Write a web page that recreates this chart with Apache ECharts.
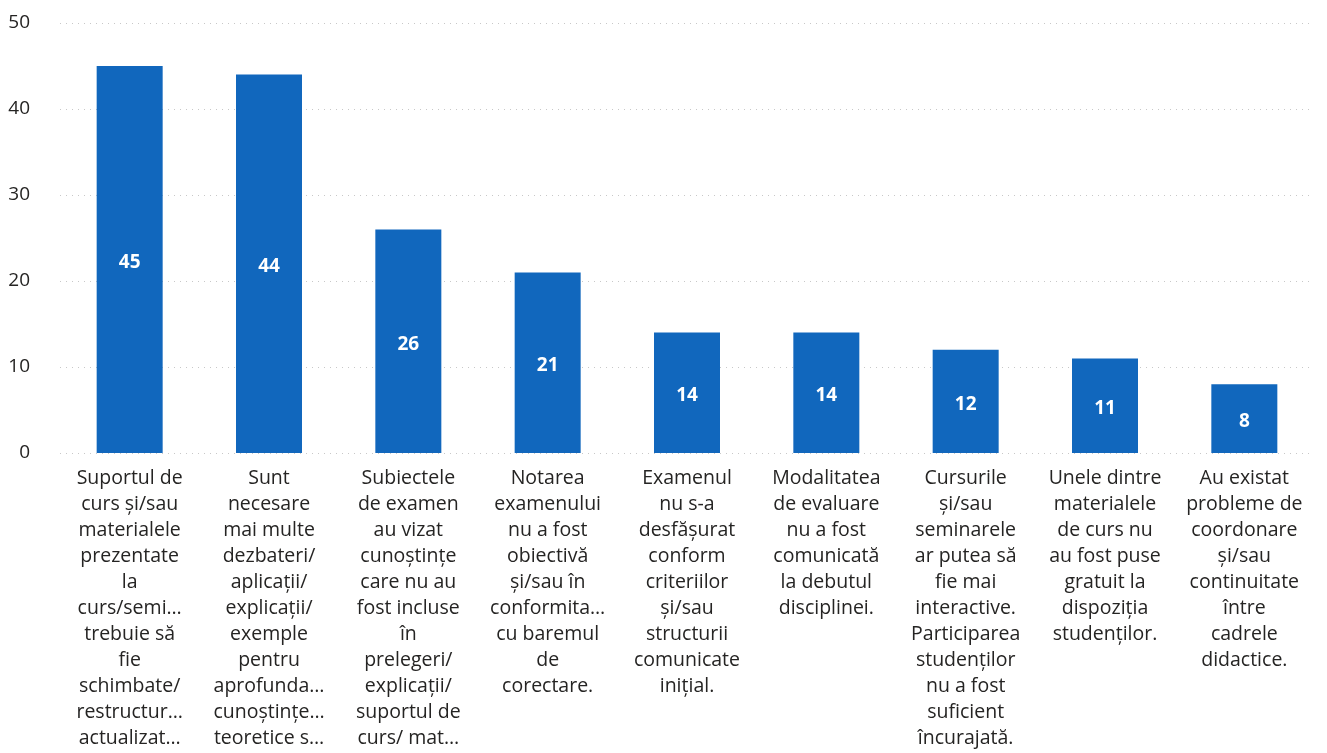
<!DOCTYPE html>
<html>
<head>
<meta charset="utf-8">
<script src="https://cdn.jsdelivr.net/npm/echarts@6/dist/echarts.min.js"></script>
<style>
  html, body { margin: 0; padding: 0; background: #ffffff; }
  #chart { width: 1327px; height: 753px; }
</style>
</head>
<body>
<div id="chart"></div>
<script>
// category labels as shown (wrapped and truncated in the original)
var categories = [
  'Suportul de\ncurs și/sau\nmaterialele\nprezentate\nla\ncurs/semi…\ntrebuie să\nfie\nschimbate/\nrestructur…\nactualizat…',
  'Sunt\nnecesare\nmai multe\ndezbateri/\naplicații/\nexplicații/\nexemple\npentru\naprofunda…\ncunoștințe…\nteoretice s…',
  'Subiectele\nde examen\nau vizat\ncunoștințe\ncare nu au\nfost incluse\nîn\nprelegeri/\nexplicații/\nsuportul de\ncurs/ mat…',
  'Notarea\nexamenului\nnu a fost\nobiectivă\nși/sau în\nconformita…\ncu baremul\nde\ncorectare.',
  'Examenul\nnu s-a\ndesfășurat\nconform\ncriteriilor\nși/sau\nstructurii\ncomunicate\ninițial.',
  'Modalitatea\nde evaluare\nnu a fost\ncomunicată\nla debutul\ndisciplinei.',
  'Cursurile\nși/sau\nseminarele\nar putea să\nfie mai\ninteractive.\nParticiparea\nstudenților\nnu a fost\nsuficient\nîncurajată.',
  'Unele dintre\nmaterialele\nde curs nu\nau fost puse\ngratuit la\ndispoziția\nstudenților.',
  'Au existat\nprobleme de\ncoordonare\nși/sau\ncontinuitate\nîntre\ncadrele\ndidactice.'
]
var counts = [45, 44, 26, 21, 14, 14, 12, 11, 8]

var myChart = echarts.init(document.getElementById('chart'))
myChart.setOption({
  animation: false,
  textStyle: {
    fontFamily: 'Open Sans'
  },
  grid: {
    left: 60,
    right: 13,
    top: 23,
    bottom: 300
  },
  xAxis: {
    type: 'category',
    data: categories,
    axisLine: { show: false },
    axisTick: { show: false },
    axisLabel: {
      interval: 0,
      margin: 12,
      color: '#252423',
      fontSize: 19.5,
      lineHeight: 26,
      align: 'center',
      verticalAlign: 'top'
    }
  },
  yAxis: {
    type: 'value',
    min: 0,
    max: 50,
    interval: 10,
    axisLine: { show: false },
    axisTick: { show: false },
    axisLabel: {
      margin: 30,
      color: '#252423',
      fontSize: 19
    },
    splitLine: {
      lineStyle: {
        color: '#c8c8c8',
        type: [1, 5],
        width: 1
      }
    }
  },
  series: [{
    type: 'bar',
    data: counts,
    barWidth: 66,
    itemStyle: {
      color: '#1167bd'
    },
    label: {
      show: true,
      position: 'inside',
      offset: [0, 3],
      color: '#ffffff',
      fontWeight: 'bold',
      fontSize: 19
    }
  }]
})
</script>
</body>
</html>
